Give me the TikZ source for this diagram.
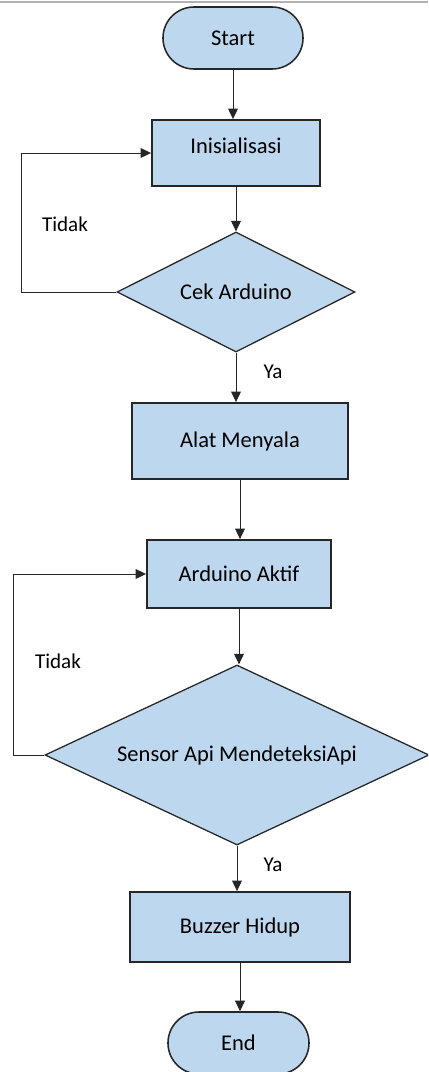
\documentclass[tikz,border=0pt]{standalone}
\usepackage{fontspec}
\setmainfont{Carlito}
\usetikzlibrary{shapes.geometric, shapes.misc, arrows.meta}
\definecolor{boxfill}{HTML}{BDD7EE}
\definecolor{boxline}{HTML}{262626}

\begin{document}
\begin{tikzpicture}[
    x=0.025cm, y=-0.025cm,
    font=\fontsize{16}{19}\selectfont,
    terminal/.style={rounded rectangle, draw=boxline, fill=boxfill, line width=1.1pt, minimum width=3.5cm, minimum height=1.55cm, inner sep=0pt},
    process/.style={rectangle, draw=boxline, fill=boxfill, line width=1.3pt, inner sep=0pt},
    decision/.style={diamond, draw=boxline, fill=boxfill, line width=0.9pt, inner sep=0pt},
    link/.style={draw=black!85, line width=0.7pt, -{Triangle[length=7.5pt, width=7pt]}},
    note/.style={font=\fontsize{15}{18}\selectfont}
]
  \useasboundingbox (0,0) rectangle (428,1072);
  \clip (0,0) rectangle (428,1072);
  \draw[black!30, line width=1pt] (0,2) -- (428,2);

  \node[terminal] (start) at (233,38) {Start};
  \node[process, minimum width=4.2cm, minimum height=1.65cm] (init) at (236,153) {};
  \node (initlabel) at (236,146) {Inisialisasi};
  \node[decision, shape aspect=2, minimum width=5.95cm, minimum height=3cm] (cek) at (236,292) {Cek Arduino};
  \node[process, minimum width=5.4cm, minimum height=1.9cm] (alat) at (240,441) {Alat Menyala};
  \node[process, minimum width=4.6cm, minimum height=1.7cm] (aktif) at (239,574) {Arduino Aktif};
  \node[decision, shape aspect=2.13, minimum width=9.6cm, minimum height=4.5cm] (sensor) at (237,755) {Sensor Api MendeteksiApi};
  \node[process, minimum width=5.5cm, minimum height=1.75cm] (buzzer) at (240,927) {Buzzer Hidup};
  \node[terminal, minimum width=3.525cm] (finish) at (238.5,1043) {End};

  \draw[link] (start.south) -- (start.south |- init.north);
  \draw[link] (init.south) -- (init.south |- cek.north);
  \draw[link] (cek.west) -- ++(-95,0) |- (init.west);
  \draw[link] (cek.south) -- (cek.south |- alat.north);
  \draw[link] (alat.south) -- (alat.south |- aktif.north);
  \draw[link] (aktif.south) -- (aktif.south |- sensor.north);
  \draw[link] (sensor.west) -- ++(-31,0) |- (aktif.west);
  \draw[link] (sensor.south) -- (sensor.south |- buzzer.north);
  \draw[link] (buzzer.south) -- (buzzer.south |- finish.north);

  \node[note] (tidak1) at (65,224) {Tidak};
  \node[note] (ya1) at (273,372) {Ya};
  \node[note] (tidak2) at (58,661) {Tidak};
  \node[note] (ya2) at (273,865) {Ya};
\end{tikzpicture}
\end{document}
